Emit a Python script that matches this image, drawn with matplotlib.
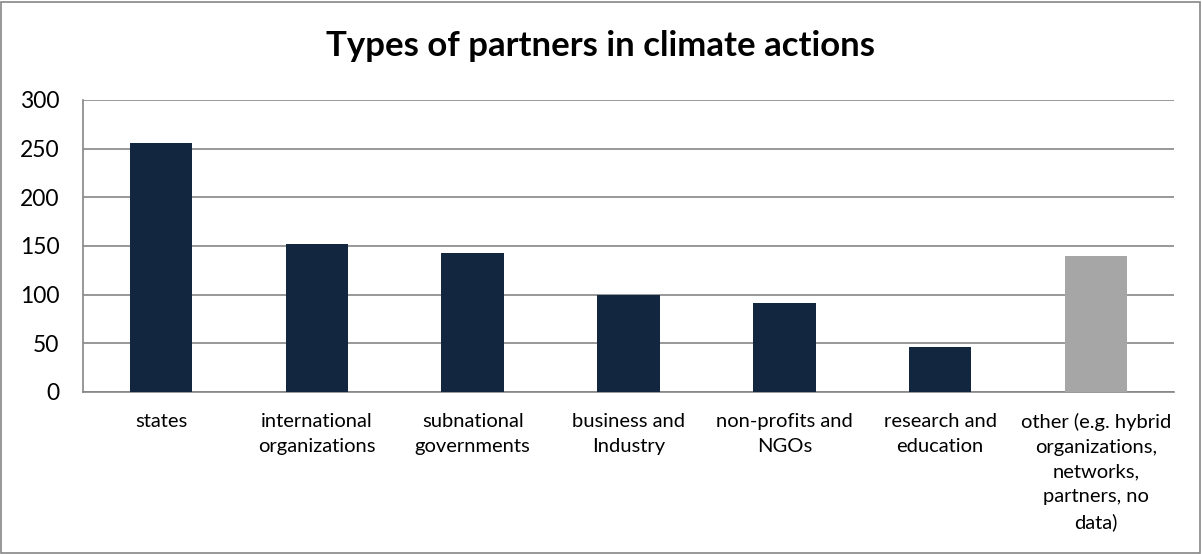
import matplotlib.pyplot as plt
from matplotlib.patches import Rectangle
import numpy as np

plt.rcParams['font.family'] = ['Lato', 'DejaVu Sans']

categories = ['states', 'international\norganizations', 'subnational\ngovernments',
              'business and\nIndustry', 'non-profits and\nNGOs', 'research and\neducation',
              'other (e.g. hybrid\norganizations,\nnetworks,\npartners, no\ndata)']
values = [256, 152, 143, 100, 91, 46, 140]
colors = ['#13263f'] * 6 + ['#a6a6a6']

fig = plt.figure(figsize=(12.02, 5.54), dpi=100)
ax = fig.add_axes([83/1202, 1 - 392/554, (1174-83)/1202, (392-100)/554])

x = np.arange(len(values))
ax.bar(x, values, width=0.4, color=colors, zorder=3)
ax.set_xlim(-0.5, len(values) - 0.5)
ax.set_ylim(0, 300)
ax.set_yticks(range(0, 301, 50))
ax.yaxis.grid(True, color='#868686', linewidth=1.2, zorder=0)
ax.tick_params(axis='y', length=0, labelsize=16.5, pad=17)
ax.tick_params(axis='x', length=0, labelsize=14.5, pad=15)
ax.set_xticks(x)
ax.set_xticklabels(categories, linespacing=1.55, va='top')

for s in ['top', 'right']:
    ax.spines[s].set_visible(False)
ax.spines['left'].set_color('#868686')
ax.spines['bottom'].set_color('#868686')
ax.spines['left'].set_linewidth(1.2)
ax.spines['bottom'].set_linewidth(1.2)

fig.text(0.5, 1 - 46/554, 'Types of partners in climate actions', ha='center', va='center',
         fontsize=25, fontweight='bold')

fig.patches.append(Rectangle((1/1202, 1/554), 1199/1202, 551/554, transform=fig.transFigure,
                             fill=False, edgecolor='#868686', linewidth=1.2))

fig.savefig('out.png', dpi=100)
